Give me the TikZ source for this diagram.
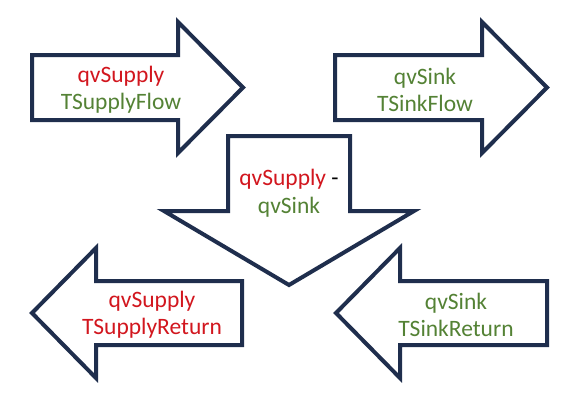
\documentclass[tikz,border=0pt]{standalone}
\usepackage{fontspec}
\setmainfont{Carlito}
\definecolor{qvred}{RGB}{210,22,30}
\definecolor{qvgreen}{RGB}{84,130,53}
\definecolor{arrowblue}{RGB}{31,46,77}
\begin{document}
\begin{tikzpicture}[x=1pt,y=-1pt,
arrowshape/.style={draw=arrowblue,line width=4pt,line join=miter,fill=white},
arrowtext/.style={align=center,inner sep=0pt,font=\fontsize{23.5}{27.5}\selectfont}]
\useasboundingbox (0,0) rectangle (583,400);
\draw[arrowshape] (32,55)--(178,55)--(178,22)--(243,87.5)--(178,153)--(178,120)--(32,120)--cycle;
\draw[arrowshape] (335,55)--(482,55)--(482,22)--(547,87.5)--(482,153)--(482,120)--(335,120)--cycle;
\draw[arrowshape] (228,136)--(350,136)--(350,211)--(414,211)--(289,285)--(164,211)--(228,211)--cycle;
\draw[arrowshape] (242,281)--(96,281)--(96,248)--(32,313)--(96,378)--(96,345)--(242,345)--cycle;
\draw[arrowshape] (547,281)--(400,281)--(400,248)--(336,313)--(400,378)--(400,345)--(547,345)--cycle;
\node[arrowtext] (supplyflow) at (121,89.7){\textcolor{qvred}{qvSupply}\\\textcolor{qvgreen}{TSupplyFlow}};
\node[arrowtext] (sinkflow) at (425,89.7){\textcolor{qvgreen}{qvSink}\\\textcolor{qvgreen}{TSinkFlow}};
\node[arrowtext] (diff) at (289,193.2){\textcolor{qvred}{qvSupply} -\\\textcolor{qvgreen}{qvSink}};
\node[arrowtext] (supplyreturn) at (152,314.7){\textcolor{qvred}{qvSupply}\\\textcolor{qvred}{TSupplyReturn}};
\node[arrowtext] (sinkreturn) at (456,314.7){\textcolor{qvgreen}{qvSink}\\\textcolor{qvgreen}{TSinkReturn}};
\end{tikzpicture}
\end{document}
